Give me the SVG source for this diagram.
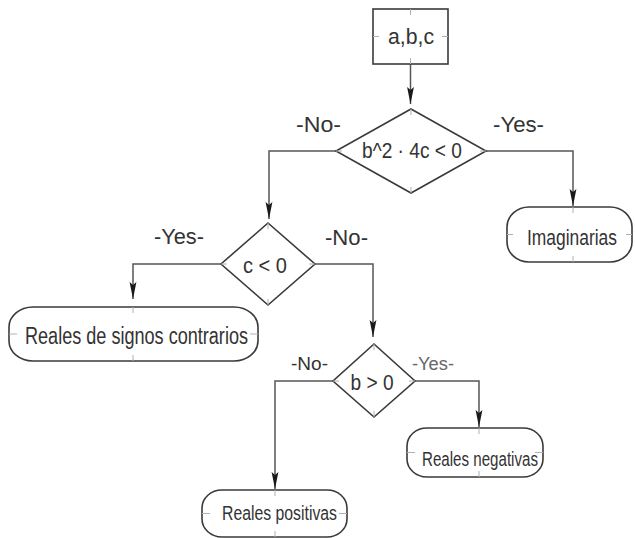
<svg xmlns="http://www.w3.org/2000/svg" width="635" height="538" viewBox="0 0 635 538">
<style>
.shape{fill:#fff;stroke:#3a3a3a;stroke-width:1.6}
.tick{stroke:#b0b0b0;stroke-width:1;fill:none}
.conn{fill:none;stroke:#555;stroke-width:1.5}
text{font-family:"Liberation Sans",Arial,sans-serif;fill:#333;text-anchor:middle}
.big{font-size:22px}
.small{font-size:18px}
</style>
<defs>
<marker id="arr" markerUnits="userSpaceOnUse" markerWidth="20" markerHeight="10" refX="17" refY="5" orient="auto">
<path d="M0,1.6 L17,5 L0,8.4 L3,5 z" fill="#1a1a1a"/>
</marker>
</defs>
<rect width="635" height="538" fill="#fff"/>
<g id="connectors">
<path class="conn" d="M410.5,64 V104" marker-end="url(#arr)"/>
<path class="conn" d="M336,151 H269 V219" marker-end="url(#arr)"/>
<path class="conn" d="M486,151 H573 V206" marker-end="url(#arr)"/>
<path class="conn" d="M221,264 H133 V299" marker-end="url(#arr)"/>
<path class="conn" d="M315,264 H373 V337" marker-end="url(#arr)"/>
<path class="conn" d="M333,381 H275 V489" marker-end="url(#arr)"/>
<path class="conn" d="M415,381 H479 V427" marker-end="url(#arr)"/>
</g>
<g id="start">
<rect class="shape" x="373" y="9" width="75" height="55"/>
<path class="tick" d="M410.5,9 v6 M410.5,64 v-6 M373,36.5 h6 M448,36.5 h-6"/>
<text class="big" x="411" y="44" textLength="46" lengthAdjust="spacingAndGlyphs">a,b,c</text>
</g>
<g id="d1">
<polygon class="shape" points="411,109 486,151 411,193 336,151"/>
<path class="tick" d="M411,109 v6 M411,193 v-6 M336,151 h6 M486,151 h-6"/>
<text class="big" x="412" y="158" textLength="100" lengthAdjust="spacingAndGlyphs">b^2 · 4c &lt; 0</text>
</g>
<g id="d2">
<polygon class="shape" points="268,223 315,264 268,305 221,264"/>
<path class="tick" d="M268,223 v6 M268,305 v-6 M221,264 h6 M315,264 h-6"/>
<text class="big" x="265" y="273" textLength="44" lengthAdjust="spacingAndGlyphs">c &lt; 0</text>
</g>
<g id="d3">
<polygon class="shape" points="374,344 415,381 374,417 333,381"/>
<path class="tick" d="M374,344 v6 M374,417 v-6 M333,381 h6 M415,381 h-6"/>
<text class="big" x="372" y="390" textLength="43" lengthAdjust="spacingAndGlyphs">b &gt; 0</text>
</g>
<g id="t_imag">
<rect class="shape" x="507" y="207" width="125" height="55" rx="22" ry="20"/>
<path class="tick" d="M573,207 v6 M573,262 v-6 M507,234.5 h6 M632,234.5 h-6"/>
<text class="big" x="572" y="245" textLength="90" lengthAdjust="spacingAndGlyphs">Imaginarias</text>
</g>
<g id="t_signos">
<rect class="shape" x="9" y="307" width="249" height="54" rx="24" ry="20"/>
<path class="tick" d="M133,307 v6 M133,361 v-6 M9,334 h8 M258,334 h-8"/>
<text x="136.5" y="344" font-size="23" textLength="223" lengthAdjust="spacingAndGlyphs">Reales de signos contrarios</text>
</g>
<g id="t_neg">
<rect class="shape" x="407" y="428" width="136" height="49" rx="20" ry="18"/>
<path class="tick" d="M479,428 v6 M479,477 v-6 M407,452.5 h8 M543,452.5 h-8"/>
<text x="480" y="466" font-size="20" textLength="116" lengthAdjust="spacingAndGlyphs">Reales negativas</text>
</g>
<g id="t_pos">
<rect class="shape" x="202" y="490" width="145" height="47" rx="20" ry="18"/>
<path class="tick" d="M275,490 v6 M275,537 v-6 M202,513.5 h8 M347,513.5 h-8"/>
<text x="279.5" y="520" font-size="20" textLength="115" lengthAdjust="spacingAndGlyphs">Reales positivas</text>
</g>
<g id="labels">
<text class="big" x="318.5" y="132" textLength="45" lengthAdjust="spacingAndGlyphs">-No-</text>
<text class="big" x="518.5" y="132" textLength="51" lengthAdjust="spacingAndGlyphs">-Yes-</text>
<text class="big" x="179" y="244" textLength="50" lengthAdjust="spacingAndGlyphs">-Yes-</text>
<text class="big" x="346.5" y="245" textLength="43" lengthAdjust="spacingAndGlyphs">-No-</text>
<text class="small" x="309.5" y="370" textLength="37" lengthAdjust="spacingAndGlyphs">-No-</text>
<text class="small" x="433" y="370" textLength="42" lengthAdjust="spacingAndGlyphs" style="fill:#666">-Yes-</text>
</g>
</svg>
